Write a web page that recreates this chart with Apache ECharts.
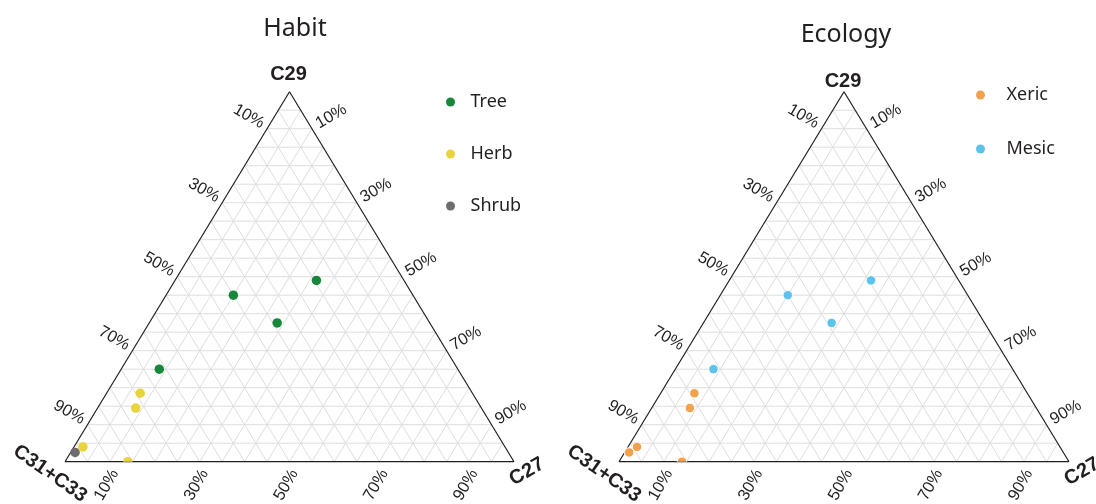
<!DOCTYPE html>
<html><head><meta charset="utf-8">
<script src="https://cdn.jsdelivr.net/npm/echarts@6/dist/echarts.min.js"></script>
<style>html,body{margin:0;padding:0;background:#fff}#c{width:1096px;height:504px}</style>
</head><body><div id="c"></div>
<script>
// ---- data ----
const panelTitles = ['Habit', 'Ecology'];
const cornerLabels = ['C29', 'C31+C33', 'C27']; // top, bottom-left, bottom-right
const tickValues = [10, 30, 50, 70, 90];
const tickLabels = ['10%', '30%', '50%', '70%', '90%'];
// compositions: [C27, C29, C31+C33] in %
const treeData  = [[15, 45, 40], [31.5, 49, 19.5], [28.5, 37.5, 34], [8.5, 25, 66.5]];
const herbData  = [[7.5, 18.5, 74], [8.5, 14.5, 77], [2, 4, 94], [14, 0, 86]];
const shrubData = [[1, 2.5, 96.5]];
const xericData = [[7.5, 18.5, 74], [8.5, 14.5, 77], [2, 4, 94], [1, 2.5, 96.5], [14, 0, 86]];
const mesicData = [[15, 45, 40], [31.5, 49, 19.5], [28.5, 37.5, 34], [8.5, 25, 66.5]];

// ---- helpers ----
const TXT = '#231f20';
const toXY = d => [d[0] + d[1] / 2, d[1]];   // ternary -> cartesian (0..100)

function latticeLines() {
  const L = [];
  for (let k = 5; k < 100; k += 5) {
    L.push([k / 2, k, 100 - k / 2, k]);               // constant C29
    L.push([k, 0, k + (100 - k) / 2, 100 - k]);        // constant C27
    L.push([100 - k, 0, (100 - k) / 2, 100 - k]);      // constant C31+C33
  }
  return L;
}
const edgeLines = [[0, 0, 100, 0], [0, 0, 50, 100], [100, 0, 50, 100]];

function lineSeries(idx, data, stroke, width, z) {
  return {
    type: 'custom', xAxisIndex: idx, yAxisIndex: idx, z: z, silent: true, clip: false,
    encode: { x: [0, 2], y: [1, 3] },
    data: data,
    renderItem: (params, api) => {
      const p1 = api.coord([api.value(0), api.value(1)]);
      const p2 = api.coord([api.value(2), api.value(3)]);
      return { type: 'line', shape: { x1: p1[0], y1: p1[1], x2: p2[0], y2: p2[1] },
               style: { stroke: stroke, lineWidth: width } };
    }
  };
}

function tickSeries(idx) {
  return {
    type: 'custom', xAxisIndex: idx, yAxisIndex: idx, z: 5, silent: true, clip: false,
    encode: { x: 0, y: 0 },
    data: tickValues.map((v, i) => [v, i]),
    renderItem: (params, api) => {
      const t = api.value(0);
      const lab = tickLabels[api.value(1)];
      const L = api.coord([(100 - t) / 2, 100 - t]);
      const R = api.coord([(100 + t) / 2, 100 - t]);
      const B = api.coord([t, 0]);
      const st = (align) => ({ text: lab, fill: TXT, fontSize: 16.5, fontFamily: 'Liberation Sans', align: align, verticalAlign: 'middle' });
      return { type: 'group', children: [
        { type: 'text', x: L[0] - 4, y: L[1] - 4, rotation: -Math.PI / 6, style: st('right') },
        { type: 'text', x: R[0] + 5, y: R[1] - 4, rotation: Math.PI / 6, style: st('left') },
        { type: 'text', x: B[0] + 5, y: B[1] + 9, rotation: Math.PI / 3, style: st('right') }
      ]};
    }
  };
}

function cornerSeries(idx, topDy) {
  return {
    type: 'custom', xAxisIndex: idx, yAxisIndex: idx, z: 5, silent: true, clip: false,
    encode: { x: 0, y: 1 },
    data: [[50, 100]],
    renderItem: (params, api) => {
      const T = api.coord([50, 100]);
      const BL = api.coord([0, 0]);
      const BR = api.coord([100, 0]);
      const st = (s) => ({ text: s, fill: TXT, fontSize: 20, fontWeight: 'bold', fontFamily: 'Liberation Sans', align: 'center', verticalAlign: 'middle' });
      return { type: 'group', children: [
        { type: 'text', x: T[0] - 1, y: T[1] + topDy, style: st(cornerLabels[0]) },
        { type: 'text', x: BL[0] - 15, y: BL[1] + 12, rotation: -0.61, style: st(cornerLabels[1]) },
        { type: 'text', x: BR[0] + 13, y: BR[1] + 10, rotation: Math.PI / 6, style: st(cornerLabels[2]) }
      ]};
    }
  };
}

function points(idx, name, data, color, border) {
  return {
    type: 'custom', name: name, xAxisIndex: idx, yAxisIndex: idx, z: 10, clip: true,
    encode: { x: 0, y: 1 },
    data: data.map(toXY),
    itemStyle: { color: color },
    renderItem: (params, api) => {
      const p = api.coord([api.value(0), api.value(1)]);
      return { type: 'circle', shape: { cx: p[0], cy: p[1], r: 4.75 },
               style: { fill: color, stroke: border ? '#fff' : null, lineWidth: border } };
    },
    emphasis: { disabled: true }
  };
}

const chart = echarts.init(document.getElementById('c'), null, { renderer: 'canvas' });
const axisBase = { type: 'value', min: 0, max: 100, show: false };
chart.setOption({
  animation: false,
  backgroundColor: '#fff',
  title: [
    { text: panelTitles[0], left: 295, top: 16, textAlign: 'center', padding: 0,
      textStyle: { fontFamily: 'Noto Sans', fontSize: 25, fontWeight: 'normal', color: TXT } },
    { text: panelTitles[1], left: 846, top: 22, textAlign: 'center', padding: 0,
      textStyle: { fontFamily: 'Noto Sans', fontSize: 25, fontWeight: 'normal', color: TXT } }
  ],
  legend: [
    { data: ['Tree', 'Herb', 'Shrub'], orient: 'vertical', left: 446, top: 93, padding: 0,
      itemWidth: 30, itemHeight: 9, itemGap: 34, icon: 'circle', selectedMode: false,
      textStyle: { fontFamily: 'Noto Sans', fontSize: 18, color: TXT } },
    { data: ['Xeric', 'Mesic'], orient: 'vertical', left: 976, top: 86, padding: 0,
      itemWidth: 42, itemHeight: 9, itemGap: 36, icon: 'circle', selectedMode: false,
      textStyle: { fontFamily: 'Noto Sans', fontSize: 18, color: TXT } }
  ],
  grid: [
    { left: 65, top: 91.7, width: 449, height: 370 },
    { left: 619, top: 91.7, width: 450, height: 370 }
  ],
  xAxis: [Object.assign({ gridIndex: 0 }, axisBase), Object.assign({ gridIndex: 1 }, axisBase)],
  yAxis: [Object.assign({ gridIndex: 0 }, axisBase), Object.assign({ gridIndex: 1 }, axisBase)],
  series: [
    lineSeries(0, latticeLines(), '#dedede', 1, 1),
    lineSeries(0, edgeLines, '#231f20', 1.2, 3),
    tickSeries(0), cornerSeries(0, -17),
    points(0, 'Tree', treeData, '#17883b', 0),
    points(0, 'Herb', herbData, '#e8d43c', 0),
    points(0, 'Shrub', shrubData, '#6d6d6d', 0),
    lineSeries(1, latticeLines(), '#dedede', 1, 1),
    lineSeries(1, edgeLines, '#231f20', 1.2, 3),
    tickSeries(1), cornerSeries(1, -10),
    points(1, 'Xeric', xericData, '#f2a24b', 1),
    points(1, 'Mesic', mesicData, '#5ec3ea', 1)
  ]
});
</script></body></html>
